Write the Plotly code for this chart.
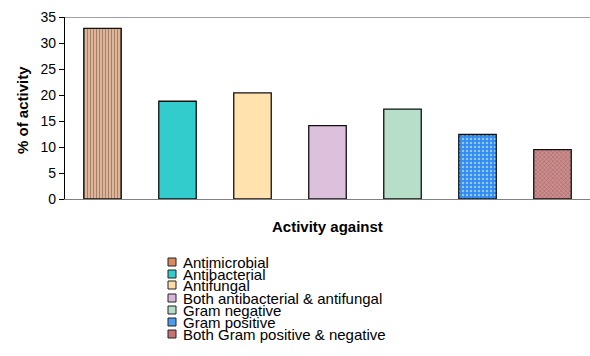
import plotly.graph_objects as go

# Categories and values
categories = [
    "Antimicrobial",
    "Antibacterial",
    "Antifungal",
    "Both antibacterial & antifungal",
    "Gram negative",
    "Gram positive",
    "Both Gram positive & negative",
]
activity_pct = [32.8, 18.8, 20.4, 14.1, 17.3, 12.4, 9.5]
y_ticks = [0, 5, 10, 15, 20, 25, 30, 35]

# Fill styles per bar: (pattern shape, base colour, pattern colour, size, solidity)
styles = [
    ("|", "#F6C4A0", "#D0602A", 3, 0.5),
    ("", "#33CCCC", "#33CCCC", 3, 0.2),
    ("", "#FFE2AE", "#FFE2AE", 3, 0.2),
    ("", "#DCC0DC", "#DCC0DC", 3, 0.2),
    ("", "#B6DEC9", "#B6DEC9", 3, 0.2),
    (".", "#2E8CF0", "#DDEEFF", 4, 0.3),
    ("x", "#D28C8C", "#A85656", 3, 0.3),
]
swatch_colours = ["#D98A60", "#33CCCC", "#FFDDA8", "#D8B8D8", "#B4DCC8", "#4A9CF0", "#C47474"]

W, H = 590, 356
L, R, T, B = 65, 0, 17, 157
pw, ph = W - L - R, H - T - B

fig = go.Figure()
fig.add_trace(go.Bar(
    x=categories,
    y=activity_pct,
    marker=dict(
        color=[s[1] for s in styles],
        line=dict(color="#111111", width=1.3),
        pattern=dict(
            shape=[s[0] for s in styles],
            fgcolor=[s[2] for s in styles],
            size=[s[3] for s in styles],
            solidity=[s[4] for s in styles],
            fillmode="overlay",
        ),
    ),
    showlegend=False,
    hoverinfo="x+y",
))

shapes = [
    # top frame line of the plot area
    dict(type="line", xref="paper", yref="y", x0=0, x1=1, y0=35, y1=35,
         line=dict(color="#808080", width=1.3)),
]
annotations = [
    dict(text="<b>% of activity</b>", xref="paper", yref="paper",
         x=(22 - L) / pw, y=(199 - 110) / ph, textangle=-90,
         xanchor="center", yanchor="middle",
         showarrow=False, font=dict(family="Arial, Liberation Sans", size=15, color="#000")),
    dict(text="<b>Activity against</b>", xref="paper", yref="paper",
         x=0.5, y=(199 - 227) / ph, xanchor="center", yanchor="middle",
         showarrow=False, font=dict(family="Arial, Liberation Sans", size=15, color="#000")),
]

# Legend drawn as a compact list below the chart
legend_rows_px = [262, 274, 285, 298, 310, 322, 334]
for name, colour, ypx in zip(categories, swatch_colours, legend_rows_px):
    yc = (T + ph - ypx) / ph
    half = 4 / ph
    shapes.append(dict(
        type="rect", xref="paper", yref="paper",
        x0=(168 - L) / pw, x1=(176 - L) / pw, y0=yc - half, y1=yc + half,
        fillcolor=colour, line=dict(color="#222222", width=1),
    ))
    annotations.append(dict(
        text=name, xref="paper", yref="paper", x=(181 - L) / pw, y=yc,
        xanchor="left", yanchor="middle", showarrow=False,
        font=dict(family="Arial, Liberation Sans", size=15, color="#000"),
    ))

fig.update_layout(
    width=W, height=H,
    margin=dict(l=L, r=R, t=T, b=B, autoexpand=False),
    paper_bgcolor="white", plot_bgcolor="white",
    bargap=0.5,
    xaxis=dict(
        type="category", range=[-0.5, 6.5], showticklabels=False,
        showline=True, linecolor="#808080", linewidth=1.3,
        ticks="", showgrid=False, zeroline=False, fixedrange=True,
    ),
    yaxis=dict(
        range=[0, 35], tickvals=y_ticks, ticks="outside", ticklen=5,
        tickcolor="#000", tickwidth=1, showline=True, linecolor="#000",
        linewidth=1.3, showgrid=False, zeroline=False,
        tickfont=dict(family="Arial, Liberation Sans", size=14, color="#000"),
        fixedrange=True,
    ),
    shapes=shapes,
    annotations=annotations,
)

fig.write_html("out.html")
